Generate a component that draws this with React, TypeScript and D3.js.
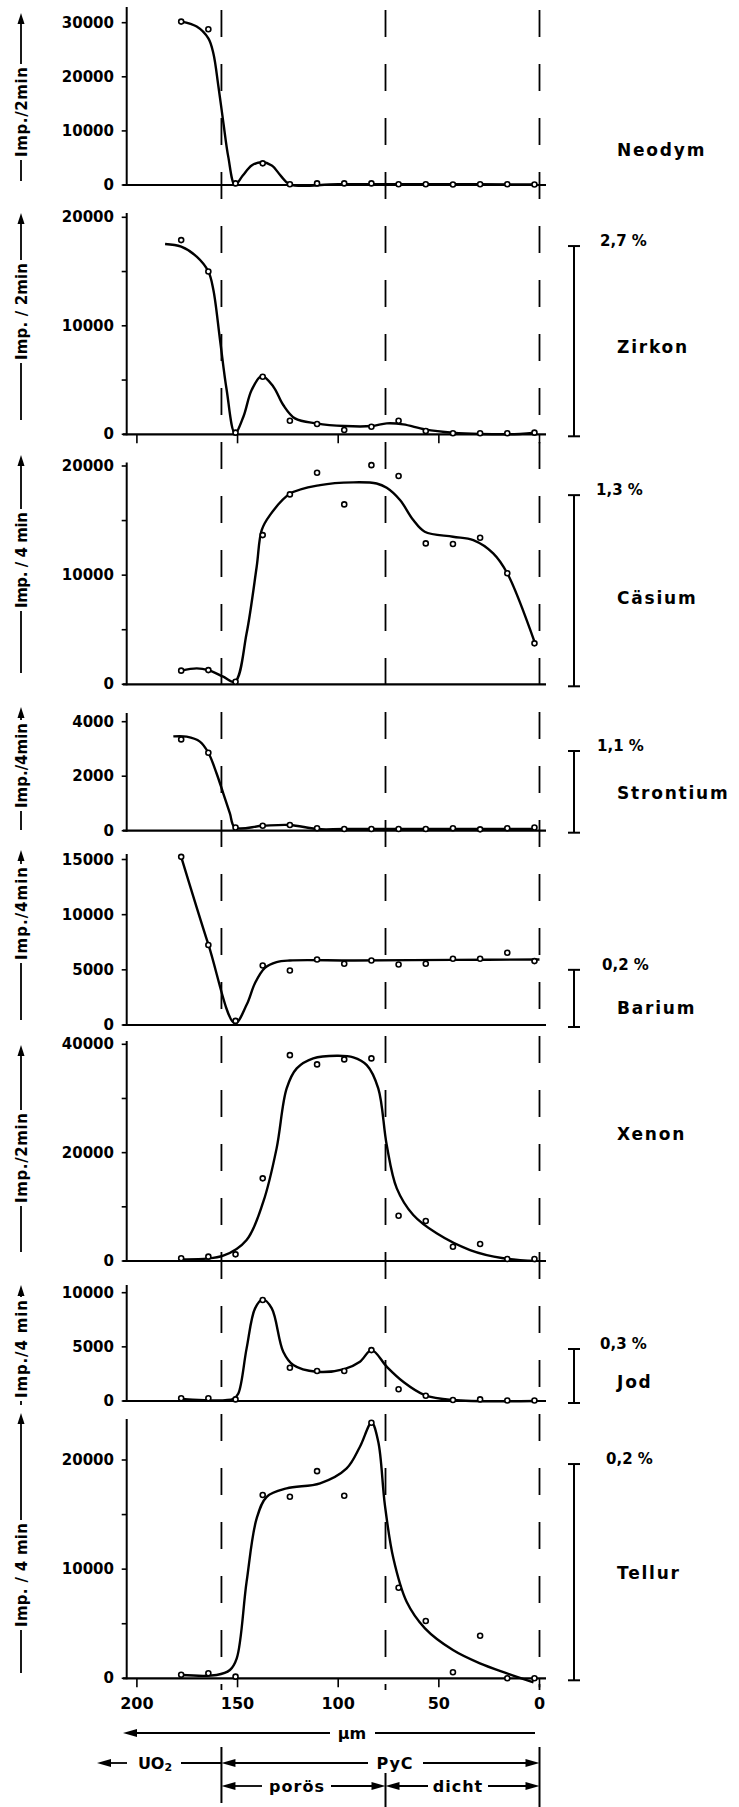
import React from 'react';
import * as d3 from 'd3';

// measuring positions (µm from the outer surface)
const depths = [178, 164.5, 151, 137.5, 124, 110.5, 97, 83.5, 70, 56.5, 43, 29.5, 16, 2.5];
const xTicks = [200, 150, 100, 50, 0];
const boundaries = [158, 76.5, 0]; // UO2 | porös PyC | dicht PyC | surface

// measured counts, one per depth
const neodymPoints = [30200, 28800, 300, 4000, 130, 300, 300, 300, 150, 150, 100, 150, 150, 100];
const zirkonPoints = [17900, 15000, 150, 5300, 1250, 950, 400, 700, 1250, 300, 100, 100, 100, 150];
const caesiumPoints = [1250, 1300, 240, 13670, 17400, 19380, 16480, 20080, 19080, 12910, 12850, 13430, 10170, 3750];
const strontiumPoints = [3350, 2860, 120, 180, 210, 90, 60, 60, 60, 60, 90, 50, 90, 120];
const bariumPoints = [15240, 7250, 370, 5390, 4940, 5940, 5550, 5850, 5480, 5550, 6000, 6000, 6550, 5790];
const xenonPoints = [500, 800, 1230, 15260, 38000, 36290, 37210, 37400, 8360, 7380, 2640, 3140, 370, 370];
const jodPoints = [250, 250, 150, 9320, 3070, 2770, 2770, 4700, 1080, 490, 90, 150, 50, 50];
const tellurPoints = [330, 460, 150, 16790, 16630, 18980, 16720, 23410, 8300, 5250, 550, 3900, 0, 0];

// hand drawn fit curves
const neodymCurveX = [178, 170.3, 164.5, 162, 159.5, 157, 154.6, 151.3, 147.5, 143, 138, 133, 128.5, 124, 100, 50, 2.5];
const neodymCurveY = [30200, 29300, 27100, 24300, 18200, 11400, 5200, 0, 1700, 3600, 4200, 3600, 1700, 100, 150, 150, 100];
const zirkonCurveX = [186, 178, 170.3, 164.5, 162, 158.7, 155.4, 151.3, 147.1, 143, 138, 132.2, 127.3, 121.5, 110.8, 96.9, 83.4, 75.9, 67.7, 56.9, 43, 29.6, 9.7, 2.2];
const zirkonCurveY = [17540, 17290, 16370, 15000, 13300, 8690, 4080, 100, 1620, 4080, 5370, 4390, 2700, 1470, 1010, 760, 760, 1010, 920, 460, 150, 30, 30, 150];
const caesiumCurveX = [178, 170.3, 164.5, 157.1, 151.3, 145.5, 140.5, 138, 133.9, 124, 109, 92.5, 80.9, 75.9, 69.3, 62.7, 57, 43, 32.9, 23, 16, 2.2];
const caesiumCurveY = [1250, 1460, 1300, 700, 240, 4670, 10770, 14130, 15500, 17450, 18250, 18500, 18400, 18000, 16880, 15050, 13980, 13520, 13210, 12000, 10170, 3750];
const strontiumCurveX = [181.9, 175.3, 168.7, 164.5, 160.4, 157.1, 153.8, 151.3, 137.5, 124, 110.5, 97, 50, 2.5];
const strontiumCurveY = [3460, 3450, 3270, 2860, 2100, 1370, 640, 120, 180, 210, 60, 60, 60, 60];
const bariumCurveX = [178, 164.5, 151.3, 145.5, 141.3, 136.4, 130.6, 124.1, 92, 43, 0];
const bariumCurveY = [15240, 7300, 150, 1830, 3810, 5180, 5700, 5850, 5850, 5900, 5940];
const xenonCurveX = [178, 157.1, 145.5, 137.2, 130.6, 125.6, 120.6, 112.4, 100.7, 92.5, 85.8, 80.1, 75.9, 70.9, 62.7, 51.1, 34.5, 18, 1.7];
const xenonCurveY = [300, 980, 3870, 10940, 20790, 31860, 35550, 37400, 37880, 37600, 36160, 31860, 21400, 13410, 8490, 5110, 2030, 500, 0];
const jodCurveX = [178, 152, 149.6, 145.5, 141.3, 137.5, 133, 127.3, 122.3, 110.8, 97, 89.2, 83.4, 75.9, 67.7, 57, 43, 2.5];
const jodCurveY = [200, 200, 700, 4860, 8550, 9380, 8550, 4550, 3320, 2700, 2950, 3630, 4700, 3170, 1780, 550, 90, 0];
const tellurCurveX = [178, 160.4, 153.8, 150.4, 145.5, 140.5, 135.5, 125.6, 109, 95.8, 89.2, 83.4, 80.1, 76.8, 72.6, 66, 56.9, 43, 29.6, 16.2, 3];
const tellurCurveY = [300, 300, 760, 1830, 8850, 14650, 16630, 17400, 17860, 19230, 21210, 23410, 21670, 15870, 10990, 7010, 4580, 2590, 1370, 460, -370];

// y tick labels and minor ticks
const neodymTicks = [0, 10000, 20000, 30000];
const zirkonTicks = [0, 10000, 20000];
const caesiumTicks = [0, 10000, 20000];
const strontiumTicks = [0, 2000, 4000];
const bariumTicks = [0, 5000, 10000, 15000];
const xenonTicks = [0, 20000, 40000];
const jodTicks = [0, 5000, 10000];
const tellurTicks = [0, 10000, 20000];
const minorTicks20k = [5000, 15000];
const minorTicks40k = [10000, 30000];

// percentage scale bars (top value in counts, label)
const barValues = { Zirkon: 17350, 'Cäsium': 17330, Strontium: 2925, Barium: 5000, Jod: 4800, Tellur: 19630 };
const barLabels = { Zirkon: '2,7 %', 'Cäsium': '1,3 %', Strontium: '1,1 %', Barium: '0,2 %', Jod: '0,3 %', Tellur: '0,2 %' };

const FONT = '"DejaVu Sans", "Liberation Sans", sans-serif';
const AX = 126.7;
const XL = 123;
const XR = 546;

const x = d3.scaleLinear().domain([200, 0]).range([136.9, 539.5]);

const panels = [
  { name: 'Neodym', unit: 'Imp./2min', pts: neodymPoints, cx: neodymCurveX, cy: neodymCurveY, ticks: neodymTicks, minor: [] as number[], zeroY: 185, topY: 22.7, topVal: 30000, axisTop: 7, lab: [13, 67, 157, 181], nameY: 150, xt: false, pctX: 0 },
  { name: 'Zirkon', unit: 'Imp. / 2min', pts: zirkonPoints, cx: zirkonCurveX, cy: zirkonCurveY, ticks: zirkonTicks, minor: minorTicks20k, zeroY: 434.3, topY: 217.3, topVal: 20000, axisTop: 213, lab: [213, 263, 360, 420], nameY: 347, xt: true, pctX: 600 },
  { name: 'Cäsium', unit: 'Imp. / 4 min', pts: caesiumPoints, cx: caesiumCurveX, cy: caesiumCurveY, ticks: caesiumTicks, minor: minorTicks20k, zeroY: 684.3, topY: 466, topVal: 20000, axisTop: 462.5, lab: [455, 512, 608, 673], nameY: 598, xt: false, pctX: 596 },
  { name: 'Strontium', unit: 'Imp./4min', pts: strontiumPoints, cx: strontiumCurveX, cy: strontiumCurveY, ticks: strontiumTicks, minor: [] as number[], zeroY: 830.7, topY: 721.7, topVal: 4000, axisTop: 713, lab: [707, 723, 808, 830], nameY: 793, xt: false, pctX: 597 },
  { name: 'Barium', unit: 'Imp./4min', pts: bariumPoints, cx: bariumCurveX, cy: bariumCurveY, ticks: bariumTicks, minor: [] as number[], zeroY: 1025, topY: 859.5, topVal: 15000, axisTop: 854, lab: [850, 867, 960, 1020], nameY: 1008, xt: false, pctX: 602 },
  { name: 'Xenon', unit: 'Imp./2min', pts: xenonPoints, cx: xenonCurveX, cy: xenonCurveY, ticks: xenonTicks, minor: minorTicks40k, zeroY: 1261, topY: 1044.3, topVal: 40000, axisTop: 1041, lab: [1045, 1113, 1203, 1252], nameY: 1134, xt: false, pctX: 0 },
  { name: 'Jod', unit: 'Imp./4 min', pts: jodPoints, cx: jodCurveX, cy: jodCurveY, ticks: jodTicks, minor: [] as number[], zeroY: 1401, topY: 1292.7, topVal: 10000, axisTop: 1285, lab: [1285, 1300, 1398, 1405], nameY: 1382, xt: false, pctX: 600 },
  { name: 'Tellur', unit: 'Imp. / 4 min', pts: tellurPoints, cx: tellurCurveX, cy: tellurCurveY, ticks: tellurTicks, minor: minorTicks20k, zeroY: 1678.3, topY: 1460, topVal: 20000, axisTop: 1419, lab: [1413, 1523, 1627, 1673], nameY: 1573, xt: true, pctX: 606 },
];

function arrowHead(tx: number, ty: number, dir: 'l' | 'r' | 'u', len = 14, hw = 4) {
  if (dir === 'l') return `M${tx},${ty}L${tx + len},${ty - hw}L${tx + len},${ty + hw}Z`;
  if (dir === 'r') return `M${tx},${ty}L${tx - len},${ty - hw}L${tx - len},${ty + hw}Z`;
  return `M${tx},${ty}L${tx - hw},${ty + len}L${tx + hw},${ty + len}Z`;
}

function Panel({ p }: { p: typeof panels[number] }) {
  const y = d3.scaleLinear().domain([0, p.topVal]).range([p.zeroY, p.topY]);
  const curve = d3.line<number>()
    .x((d, i) => x(p.cx[i]))
    .y(d => y(d))
    .curve(d3.curveCatmullRom.alpha(0.5));
  const [tip, tTop, tBot, lBot] = p.lab;
  const lx = 21;
  const bar = (barValues as any)[p.name];
  const barLab = (barLabels as any)[p.name];
  return (
    <g>
      {/* y axis */}
      <line x1={AX} x2={AX} y1={p.axisTop} y2={p.zeroY + 1} stroke="#000" strokeWidth={2} />
      {p.ticks.concat(p.minor).map(t => (
        <line key={'t' + t} x1={AX - 5} x2={AX} y1={y(t)} y2={y(t)} stroke="#000" strokeWidth={1.6} />
      ))}
      {p.ticks.map(t => (
        <text key={'l' + t} x={114} y={y(t)} textAnchor="end" dominantBaseline="central"
          fontFamily={FONT} fontWeight="bold" fontSize={15}>{t}</text>
      ))}
      {/* x axis */}
      <line x1={XL} x2={XR} y1={p.zeroY} y2={p.zeroY} stroke="#000" strokeWidth={2.2} />
      {p.xt && xTicks.map(t => (
        <line key={'x' + t} x1={x(t)} x2={x(t)} y1={p.zeroY} y2={p.zeroY + 9} stroke="#000" strokeWidth={1.6} />
      ))}
      {/* fitted curve and measured points */}
      <path d={curve(p.cy) || ''} fill="none" stroke="#000" strokeWidth={2.4} strokeLinejoin="round" />
      {p.pts.map((v, i) => (
        <circle key={'p' + i} cx={x(depths[i])} cy={y(v)} r={2.5} fill="#fff" stroke="#000" strokeWidth={1.6} />
      ))}
      {/* rotated unit label with arrow */}
      <line x1={lx} x2={lx} y1={tip + 8} y2={tTop - 3} stroke="#000" strokeWidth={1.8} />
      <path d={arrowHead(lx, tip, 'u', 11, 3.5)} fill="#000" />
      {lBot > tBot + 4 && <line x1={lx} x2={lx} y1={tBot + 3} y2={lBot} stroke="#000" strokeWidth={1.8} />}
      <text transform={`translate(${lx + 1},${(tTop + tBot) / 2}) rotate(-90)`} textAnchor="middle" dominantBaseline="central"
        fontFamily={FONT} fontWeight="bold" fontSize={15} textLength={tBot - tTop} lengthAdjust="spacing">{p.unit}</text>
      {/* element name */}
      <text x={617} y={p.nameY} dominantBaseline="central" fontFamily={FONT} fontWeight="bold" fontSize={17}
        letterSpacing={1.8}>{p.name}</text>
      {/* percent scale bar */}
      {bar !== undefined && (
        <g stroke="#000" strokeWidth={2}>
          <line x1={574} x2={574} y1={y(bar)} y2={p.zeroY + 2} />
          <line x1={568} x2={580} y1={y(bar)} y2={y(bar)} />
          <line x1={568} x2={580} y1={p.zeroY + 2} y2={p.zeroY + 2} />
          <text x={p.pctX} y={y(bar) - 5} stroke="none" dominantBaseline="central" fontFamily={FONT}
            fontWeight="bold" fontSize={15}>{barLab}</text>
        </g>
      )}
    </g>
  );
}

export default function App() {
  const tellur = panels[panels.length - 1];
  const rowMu = 1733;
  const rowPyc = 1763;
  const rowPor = 1786;
  const b0 = x(boundaries[0]);
  const b1 = x(boundaries[1]);
  const b2 = x(boundaries[2]);
  const txt = { fontFamily: FONT, fontWeight: 'bold' as const, fontSize: 16, textAnchor: 'middle' as const, dominantBaseline: 'central' as const };
  return (
    <svg width={739} height={1807} viewBox="0 0 739 1807"
      style={{ position: 'absolute', left: 0, top: 0, background: '#fff' }}>
      <rect width={739} height={1807} fill="#fff" />
      {/* region boundaries */}
      {boundaries.map(b => (
        <line key={b} x1={x(b)} x2={x(b)} y1={10} y2={1690} stroke="#000" strokeWidth={1.8} strokeDasharray="27 27" />
      ))}
      {panels.map(p => <Panel key={p.name} p={p} />)}
      {/* x tick labels */}
      {xTicks.map(t => (
        <text key={t} x={x(t)} y={tellur.zeroY + 25} {...txt}>{t}</text>
      ))}
      {/* µm arrow and region annotations */}
      <g stroke="#000" strokeWidth={1.8}>
        <line x1={XL + 10} x2={330} y1={rowMu} y2={rowMu} />
        <line x1={375} x2={535} y1={rowMu} y2={rowMu} />
        <line x1={97 + 10} x2={127} y1={rowPyc} y2={rowPyc} />
        <line x1={181} x2={b0} y1={rowPyc} y2={rowPyc} />
        <line x1={b0 + 10} x2={368} y1={rowPyc} y2={rowPyc} />
        <line x1={423} x2={b2 - 10} y1={rowPyc} y2={rowPyc} />
        <line x1={b0 + 10} x2={262} y1={rowPor} y2={rowPor} />
        <line x1={331} x2={b1 - 10} y1={rowPor} y2={rowPor} />
        <line x1={b1 + 10} x2={428} y1={rowPor} y2={rowPor} />
        <line x1={488} x2={b2 - 10} y1={rowPor} y2={rowPor} />
        <line x1={b0} x2={b0} y1={1747} y2={1803} strokeWidth={2} />
        <line x1={b1} x2={b1} y1={1773} y2={1807} strokeWidth={2} />
        <line x1={b2} x2={b2} y1={1747} y2={1807} strokeWidth={2} />
      </g>
      <g fill="#000">
        <path d={arrowHead(XL, rowMu, 'l')} />
        <path d={arrowHead(97, rowPyc, 'l')} />
        <path d={arrowHead(b0, rowPyc, 'l')} />
        <path d={arrowHead(b2, rowPyc, 'r')} />
        <path d={arrowHead(b0, rowPor, 'l')} />
        <path d={arrowHead(b1, rowPor, 'r')} />
        <path d={arrowHead(b1, rowPor, 'l')} />
        <path d={arrowHead(b2, rowPor, 'r')} />
      </g>
      <text x={352} y={rowMu} {...txt}>µm</text>
      <text x={155} y={rowPyc} {...txt}>UO<tspan dy={4} fontSize={11}>2</tspan></text>
      <text x={395} y={rowPyc} {...txt} letterSpacing={1}>PyC</text>
      <text x={297} y={rowPor} {...txt} letterSpacing={1}>porös</text>
      <text x={458} y={rowPor} {...txt} letterSpacing={1}>dicht</text>
    </svg>
  );
}
